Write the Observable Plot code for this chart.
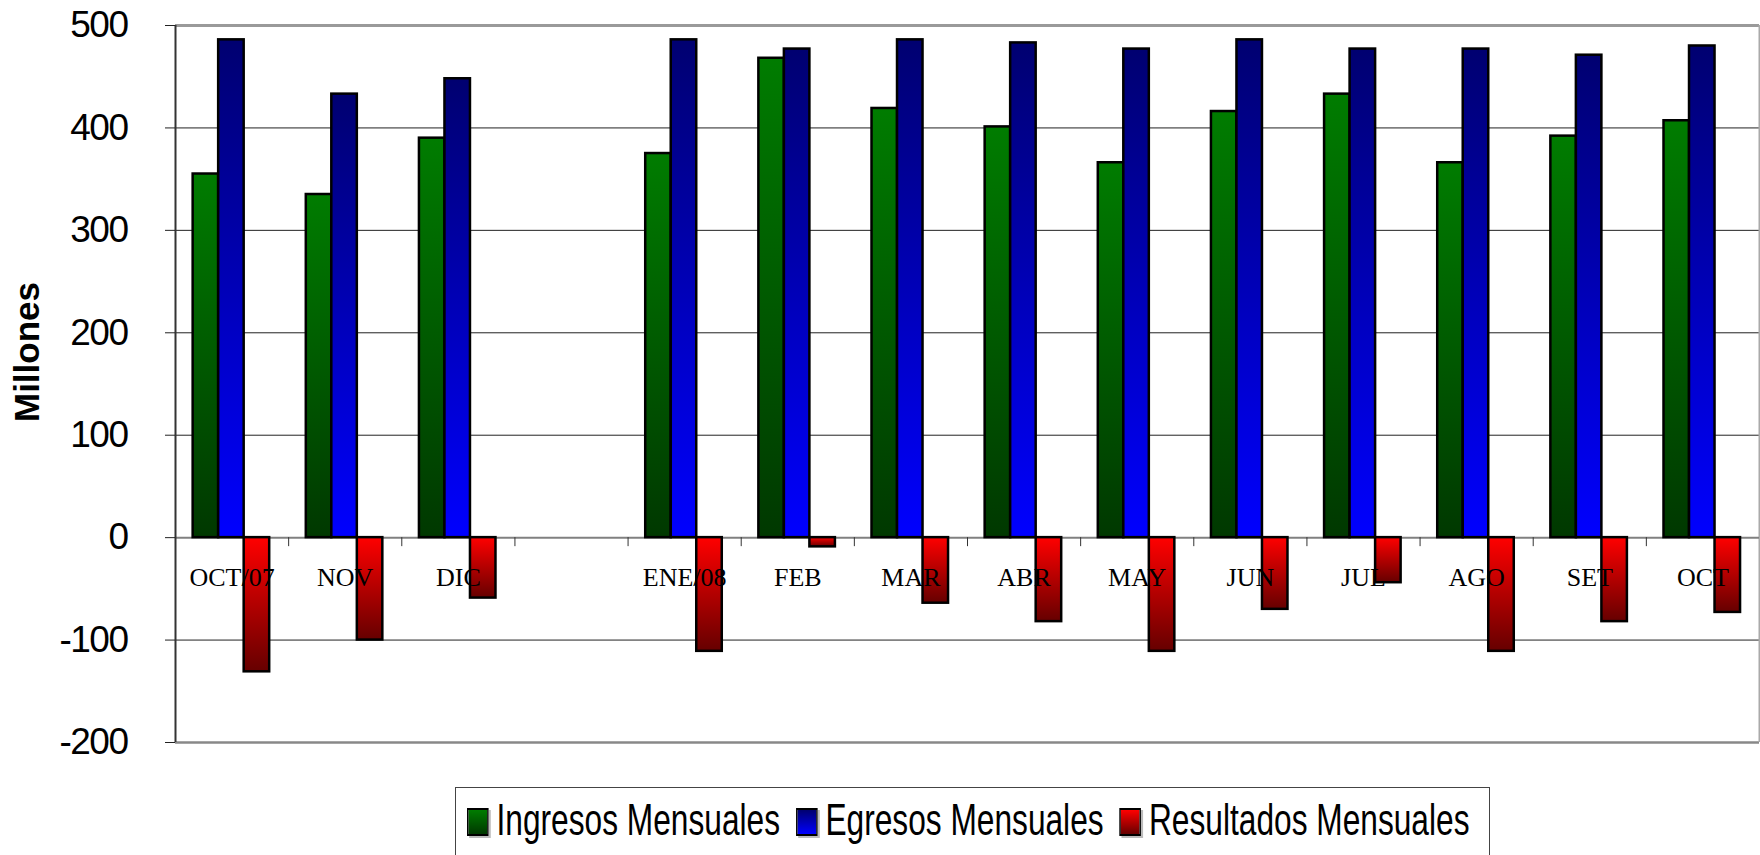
<!DOCTYPE html>
<html><head><meta charset="utf-8">
<script src="https://cdn.jsdelivr.net/npm/d3@7"></script>
<script src="https://cdn.jsdelivr.net/npm/@observablehq/plot@0.6"></script>
<style>
html,body{margin:0;padding:0;background:#fff;width:1760px;height:855px;overflow:hidden}
#wrap{position:relative;width:1760px;height:855px}
#ylabel{position:absolute;left:27px;top:352px;transform:translate(-50%,-50%) rotate(-90deg);font:bold 35px "Liberation Sans",Arial,sans-serif;white-space:nowrap;color:#000}
#legend{position:absolute;left:455px;top:787px;width:1035px;height:120px;border:1.5px solid #444;box-sizing:border-box}
#leginner{position:absolute;left:11px;top:10px;display:flex;align-items:flex-start;transform:scaleX(0.72);transform-origin:0 0;font:44px "Liberation Sans",Arial,sans-serif;line-height:44px;color:#000;white-space:nowrap}
#leginner .sw{width:30px;height:28px;border:2px solid #000;box-sizing:border-box;margin-top:10px;margin-right:11px;box-shadow:3px 2px 0 #bbb;flex:none}
#leginner .lab{margin-right:22px;white-space:nowrap}
#chart g[aria-label="y-axis tick label"] text{letter-spacing:-1.5px}
</style></head>
<body><div id="wrap"><div id="chart"></div><div id="ylabel">Millones</div><div id="legend"><div id="leginner"></div></div></div>
<script>
const categories = ["OCT/07","NOV","DIC","","ENE/08","FEB","MAR","ABR","MAY","JUN","JUL","AGO","SET","OCT"];
const ingresos   = [355, 335, 390, null, 375, 468, 419, 401, 366, 416, 433, 366, 392, 407];
const egresos    = [486, 433, 448, null, 486, 477, 486, 483, 477, 486, 477, 477, 471, 480];
const resultados = [-131, -100, -59, null, -111, -9, -64, -82, -111, -70, -44, -111, -82, -73];
const seriesNames = ["Ingresos Mensuales","Egresos Mensuales","Resultados Mensuales"];
const yTicks = [-200, -100, 0, 100, 200, 300, 400, 500];

const seriesValues = [ingresos, egresos, resultados];
const gradIds = ["gIng","gEgr","gRes"];
const gradStops = [["#007c00","#003800"],["#000070","#0000ff"],["#ff0000","#660000"]];

// layout (fractions of a category band)
const groupStart = -0.344, barW = 0.2255;

const rows = [];
seriesValues.forEach((vals, s) => vals.forEach((v, i) => {
  if (v != null) rows.push({i, s, v});
}));
const catRows = categories.map((c, i) => ({i, c}));
const boundaries = d3.range(0.5, categories.length - 1, 1);

const defs = () => {
  const d = d3.create("svg:defs");
  gradIds.forEach((id, k) => {
    const g = d.append("linearGradient").attr("id", id).attr("x1", 0).attr("y1", 0).attr("x2", 0).attr("y2", 1);
    g.append("stop").attr("offset", "0%").attr("stop-color", gradStops[k][0]);
    g.append("stop").attr("offset", "100%").attr("stop-color", gradStops[k][1]);
  });
  return d.node();
};

const chart = Plot.plot({
  width: 1760, height: 770,
  marginLeft: 175, marginRight: 1, marginTop: 25, marginBottom: 28,
  x: {domain: [-0.5, categories.length - 0.5], axis: null},
  y: {domain: [-200, 500], axis: null},
  style: {background: "transparent", overflow: "visible"},
  marks: [
    defs,
    Plot.ruleY(yTicks.filter(t => t !== 0 && t !== 500 && t !== -200), {stroke: "#222", strokeWidth: 1}),
    Plot.ruleY([500], {stroke: "#9a9a9a", strokeWidth: 3}),
    Plot.ruleY([-200], {stroke: "#888", strokeWidth: 2.5}),
    Plot.ruleX([categories.length - 0.5], {stroke: "#aaa", strokeWidth: 2}),
    Plot.ruleY([0], {stroke: "#808080", strokeWidth: 2}),
    Plot.ruleX(boundaries, {y1: 0, y2: 0, insetBottom: -9, stroke: "#333", strokeWidth: 1}),
    ...seriesValues.map((_, s) => Plot.rect(rows.filter(r => r.s === s), {
      x1: r => r.i + groupStart + s * barW,
      x2: r => r.i + groupStart + (s + 1) * barW,
      y1: 0, y2: "v",
      fill: `url(#${gradIds[s]})`, stroke: "#000", strokeWidth: 2.5
    })),
    Plot.text(catRows, {x: "i", y: () => 0, text: "c", dy: 40, fontSize: 26,
      fontFamily: '"Liberation Serif","Times New Roman",serif', fill: "#000"}),
    Plot.ruleX([-0.5], {stroke: "#333", strokeWidth: 2}),
    Plot.axisY({ticks: yTicks, tickFormat: d => String(d), tickSize: 10, tickPadding: 38,
      fontSize: 37, fontFamily: '"Liberation Sans",Arial,sans-serif',
      stroke: "#222", fill: "#000", label: null})
  ]
});
document.getElementById("chart").appendChild(chart);

const leg = document.getElementById("leginner");
seriesNames.forEach((name, k) => {
  const sw = document.createElement("span");
  sw.className = "sw";
  sw.style.background = `linear-gradient(${gradStops[k][0]}, ${gradStops[k][1]})`;
  const lab = document.createElement("span");
  lab.className = "lab";
  lab.textContent = name;
  leg.appendChild(sw); leg.appendChild(lab);
});
</script></body></html>
